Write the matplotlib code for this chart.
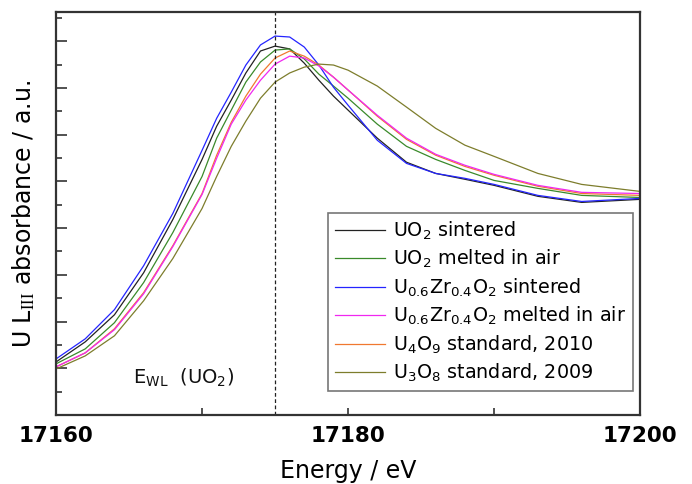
import numpy as np
import matplotlib
matplotlib.use('Agg')
import matplotlib.pyplot as plt
from matplotlib.ticker import MultipleLocator

plt.rcParams['font.family'] = ['DejaVu Sans']
plt.rcParams['mathtext.fontset'] = 'stix'

# energy grid (eV)
energy = [17160, 17162, 17164, 17166, 17168, 17170, 17171, 17172, 17173, 17174,
          17175, 17176, 17177, 17178, 17179, 17180, 17182, 17184, 17186, 17188,
          17190, 17193, 17196, 17200]

# absorbance (a.u.)
uo2_sint = [0.227, 0.313, 0.429, 0.609, 0.837, 1.094, 1.236, 1.348, 1.464, 1.558,
            1.579, 1.567, 1.506, 1.433, 1.365, 1.305, 1.185, 1.082, 1.034, 1.009,
            0.983, 0.936, 0.910, 0.923]
uo2_melt = [0.219, 0.283, 0.395, 0.567, 0.781, 1.021, 1.185, 1.305, 1.425, 1.511,
            1.562, 1.567, 1.524, 1.459, 1.408, 1.356, 1.245, 1.150, 1.094, 1.047,
            1.004, 0.970, 0.940, 0.931]
uzr_sint = [0.240, 0.326, 0.451, 0.639, 0.863, 1.133, 1.270, 1.382, 1.498, 1.584,
            1.622, 1.618, 1.575, 1.498, 1.403, 1.326, 1.176, 1.077, 1.034, 1.013,
            0.987, 0.940, 0.914, 0.927]
uzr_melt = [0.206, 0.266, 0.365, 0.519, 0.721, 0.944, 1.099, 1.245, 1.348, 1.433,
            1.502, 1.536, 1.528, 1.494, 1.446, 1.391, 1.283, 1.185, 1.116, 1.069,
            1.030, 0.983, 0.953, 0.948]
u4o9 = [0.206, 0.266, 0.369, 0.524, 0.725, 0.948, 1.112, 1.253, 1.365, 1.459,
        1.528, 1.558, 1.536, 1.498, 1.446, 1.391, 1.279, 1.180, 1.112, 1.064,
        1.026, 0.979, 0.948, 0.940]
u3o8 = [0.197, 0.253, 0.339, 0.489, 0.670, 0.884, 1.021, 1.150, 1.258, 1.356,
        1.425, 1.464, 1.489, 1.502, 1.498, 1.476, 1.408, 1.318, 1.227, 1.155,
        1.107, 1.034, 0.987, 0.957]

e_wl = 17175.0

series = [
    (uo2_sint, '#222222', r'UO$\mathregular{_2}$ sintered'),
    (uo2_melt, '#3a8a2a', r'UO$\mathregular{_2}$ melted in air'),
    (uzr_sint, '#2424ff', r'U$\mathregular{_{0.6}}$Zr$\mathregular{_{0.4}}$O$\mathregular{_2}$ sintered'),
    (uzr_melt, '#f028f0', r'U$\mathregular{_{0.6}}$Zr$\mathregular{_{0.4}}$O$\mathregular{_2}$ melted in air'),
    (u4o9, '#f07830', r'U$\mathregular{_4}$O$\mathregular{_9}$ standard, 2010'),
    (u3o8, '#7d7d2c', r'U$\mathregular{_3}$O$\mathregular{_8}$ standard, 2009'),
]

fig = plt.figure(figsize=(6.92, 4.84), dpi=100)
ax = fig.add_axes([0.081, 0.1426, 0.844, 0.8326])

# orange drawn under magenta like the original
order = [0, 1, 2, 4, 3, 5]
lines = {}
for i in order:
    y, c, lab = series[i]
    lines[i], = ax.plot(energy, y, color=c, lw=0.9, label=lab)

ax.axvline(e_wl, color='#222222', lw=0.9, ls=(0, (3, 2)))
ax.text(17165.3, 0.159, r'E$\mathregular{_{WL}}$  (UO$\mathregular{_2}$)',
        fontsize=14, va='center', ha='left', color='#111111')

ax.set_xlim(17160, 17200)
ax.set_ylim(0, 1.725)
ax.xaxis.set_major_locator(MultipleLocator(20))
ax.xaxis.set_minor_locator(MultipleLocator(10))
ax.yaxis.set_major_locator(MultipleLocator(0.2))
ax.yaxis.set_minor_locator(MultipleLocator(0.1))
ax.tick_params(which='both', direction='in', top=False, right=False,
               labelleft=False, color='#333333', width=1.2)
ax.tick_params(axis='y', which='major', length=8)
ax.tick_params(axis='y', which='minor', length=4)
ax.tick_params(axis='x', which='both', length=5, pad=8)
for lab in ax.get_xticklabels():
    lab.set_fontweight('bold')
    lab.set_fontsize(15.5)
for s in ax.spines.values():
    s.set_linewidth(1.6)
    s.set_color('#333333')

ax.set_xlabel('Energy / eV', fontsize=17, labelpad=9)
ax.set_ylabel(r'U L$_{\mathrm{III}}$ absorbance / a.u.', fontsize=17, labelpad=14)

handles = [lines[i] for i in range(6)]
leg = ax.legend(handles=handles, loc='lower right', bbox_to_anchor=(0.988, 0.06),
                borderaxespad=0, fontsize=13.8, handlelength=2.6, handletextpad=0.45,
                labelspacing=0.32, fancybox=False, edgecolor='#777777',
                framealpha=1, borderpad=0.35)
leg.get_frame().set_linewidth(1.2)

fig.savefig('out.png', dpi=100)
